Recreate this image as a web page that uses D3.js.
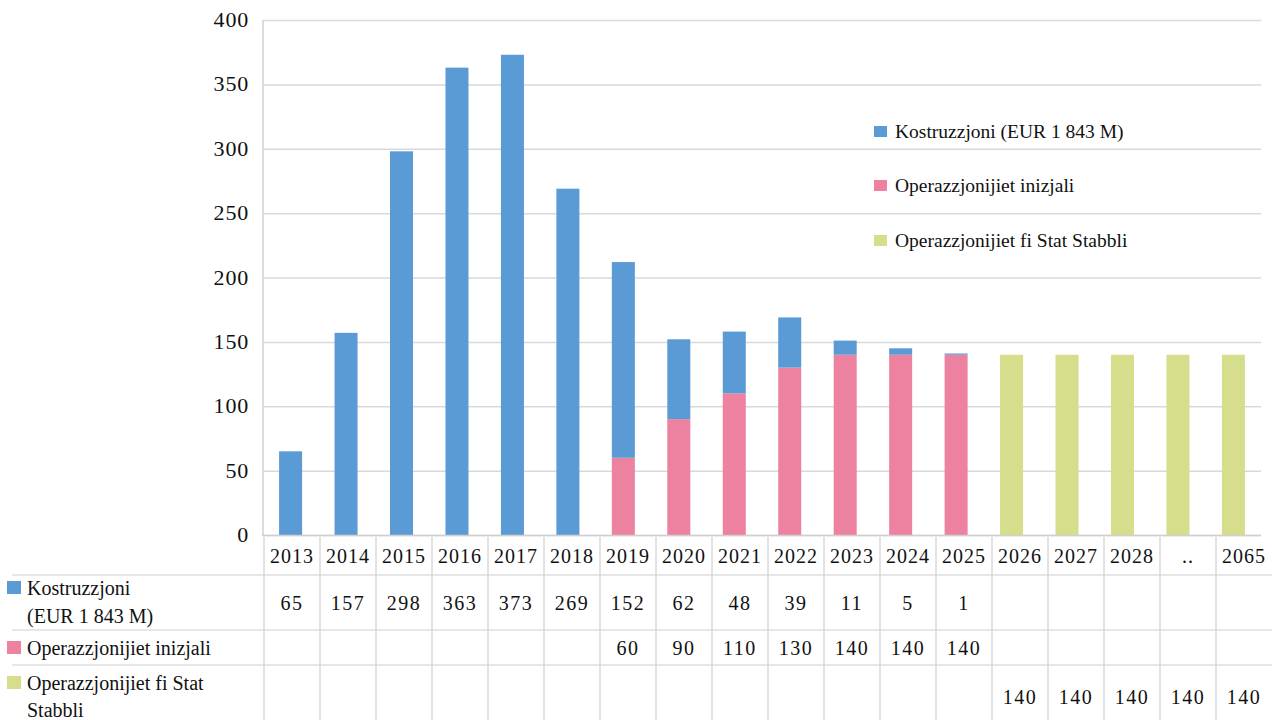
<!DOCTYPE html>
<html>
<head>
<meta charset="utf-8">
<script src="https://cdn.jsdelivr.net/npm/d3@7"></script>
</head>
<body style="margin:0">
<svg id="chart" width="1272" height="720"></svg>
<script>
// categories and series
const years = ["2013", "2014", "2015", "2016", "2017", "2018", "2019", "2020", "2021",
  "2022", "2023", "2024", "2025", "2026", "2027", "2028", "..", "2065"];
const kostruzzjoni = [65, 157, 298, 363, 373, 269, 152, 62, 48, 39, 11, 5, 1, null, null, null, null, null];
const inizjali = [null, null, null, null, null, null, 60, 90, 110, 130, 140, 140, 140, null, null, null, null, null];
const stabbli = [null, null, null, null, null, null, null, null, null, null, null, null, null, 140, 140, 140, 140, 140];
const yTicks = [0, 50, 100, 150, 200, 250, 300, 350, 400];

const seriesNames = ["Kostruzzjoni (EUR 1 843 M)", "Operazzjonijiet inizjali", "Operazzjonijiet fi Stat Stabbli"];
const tableLabels = [["Kostruzzjoni", "(EUR 1 843 M)"], ["Operazzjonijiet inizjali"], ["Operazzjonijiet fi Stat", "Stabbli"]];
const colors = { kostr: "#5b9bd5", iniz: "#ed82a0", stab: "#d6de8c" };

var svg = d3.select("#chart").style("font-family", "Liberation Serif");

// every label goes through this so the serif face is set on the text itself
function label(sel, size) {
  return sel.style("font-family", "Liberation Serif")
    .style("font-size", size + "px")
    .attr("fill", "#111");
}

// scales
var x = d3.scaleBand().domain(years).range([263, 1261]).paddingInner(0.585).paddingOuter(0.29);
var y = d3.scaleLinear().domain([0, 400]).range([535, 20]);
var col = d3.scaleBand().domain(years).range([264, 1272]);

// rows for stacking (pink at the bottom, blue on top)
var rows = years.map(function (yr, i) {
  return { year: yr, iniz: inizjali[i] || 0, stab: stabbli[i] || 0, kostr: kostruzzjoni[i] || 0 };
});
var layers = d3.stack().keys(["iniz", "stab", "kostr"])(rows);

// grid + y axis
var yAxis = d3.axisLeft(y).tickValues(yTicks).tickSize(-(1261 - 263)).tickPadding(15);
var gy = svg.append("g").attr("transform", "translate(263,0)").call(yAxis);
gy.attr("font-family", null).attr("font-size", null);
gy.select(".domain").remove();
gy.selectAll(".tick line").attr("stroke", "#d9d9d9").attr("stroke-width", 1.5);
label(gy.selectAll(".tick text"), 22)
  .style("letter-spacing", "0.8px")
  .attr("x", -14)
  .attr("dy", "0.3em");

// left axis line
svg.append("line")
  .attr("x1", 263).attr("x2", 263)
  .attr("y1", y(400)).attr("y2", y(0))
  .attr("stroke", "#d0d0d0").attr("stroke-width", 1.5);

// bars
svg.append("g")
  .selectAll("g")
  .data(layers)
  .enter()
  .append("g")
  .attr("fill", function (d) { return colors[d.key]; })
  .selectAll("rect")
  .data(function (d) { return d.filter(function (p) { return p[1] - p[0] > 0; }); })
  .enter()
  .append("rect")
  .attr("x", function (d) { return x(d.data.year); })
  .attr("width", x.bandwidth())
  .attr("y", function (d) { return y(d[1]); })
  .attr("height", function (d) { return y(d[0]) - y(d[1]); });

// bottom axis line
svg.append("line")
  .attr("x1", 262).attr("x2", 1261)
  .attr("y1", y(0) + 0.5).attr("y2", y(0) + 0.5)
  .attr("stroke", "#d0d0d0").attr("stroke-width", 1.5);

// legend
var legendKeys = ["kostr", "iniz", "stab"];
var legendBase = [138, 192, 247];
var legend = svg.append("g");
legendKeys.forEach(function (k, i) {
  legend.append("rect")
    .attr("x", 874).attr("y", legendBase[i] - 12)
    .attr("width", 13).attr("height", 11)
    .attr("fill", colors[k]);
  label(legend.append("text"), 19.5)
    .attr("x", 895).attr("y", legendBase[i])
    .text(seriesNames[i]);
});

// data table
var table = svg.append("g");
[575, 630, 665].forEach(function (ly) {
  table.append("line")
    .attr("x1", 12).attr("x2", 1272)
    .attr("y1", ly).attr("y2", ly)
    .attr("stroke", "#d0d0d0").attr("stroke-width", 1.2);
});
years.forEach(function (yr) {
  table.append("line")
    .attr("x1", col(yr)).attr("x2", col(yr))
    .attr("y1", 537).attr("y2", 720)
    .attr("stroke", "#d0d0d0").attr("stroke-width", 1.2);
});

// header years
label(table.selectAll("text.year")
  .data(years)
  .enter()
  .append("text")
  .attr("class", "year"), 20)
  .attr("x", function (d) { return col(d) + col.bandwidth() / 2; })
  .attr("y", 563)
  .attr("text-anchor", "middle")
  .style("letter-spacing", "1px")
  .text(function (d) { return d; });

// value rows
var tableSeries = [kostruzzjoni, inizjali, stabbli];
var rowBase = [610, 655, 704];
tableSeries.forEach(function (vals, r) {
  label(table.append("g")
    .selectAll("text")
    .data(years.map(function (yr, i) { return { year: yr, v: vals[i] }; })
      .filter(function (d) { return d.v != null; }))
    .enter()
    .append("text"), 20)
    .attr("x", function (d) { return col(d.year) + col.bandwidth() / 2; })
    .attr("y", rowBase[r])
    .attr("text-anchor", "middle")
    .style("letter-spacing", "1.5px")
    .text(function (d) { return d.v; });
});

// row labels with colour keys
var labelBase = [[595, 623], [655], [690, 717]];
legendKeys.forEach(function (k, r) {
  table.append("rect")
    .attr("x", 7).attr("y", labelBase[r][0] - 14)
    .attr("width", 14).attr("height", 13)
    .attr("fill", colors[k]);
  tableLabels[r].forEach(function (line, j) {
    label(table.append("text"), 20)
      .attr("x", 27).attr("y", labelBase[r][j])
      .text(line);
  });
});
</script>
</body>
</html>
